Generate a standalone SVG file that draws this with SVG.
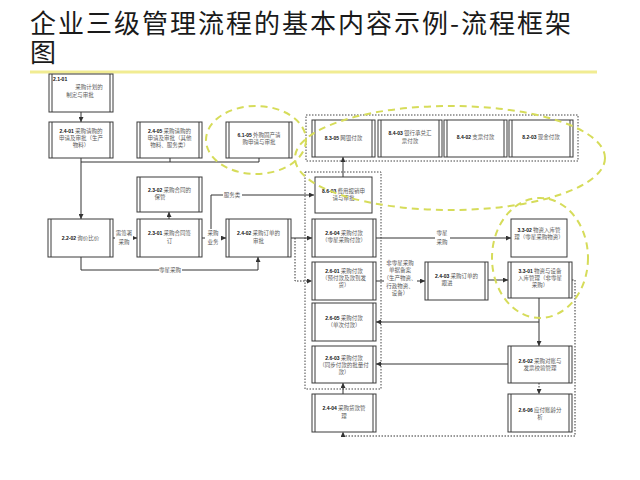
<svg xmlns="http://www.w3.org/2000/svg" width="640" height="480" viewBox="0 0 640 480">
<defs>
<style>
.title{font-family:"Noto Sans CJK SC","Noto Sans",sans-serif;font-size:26px;letter-spacing:2px;fill:#1a1a1a}
.bx{fill:#fff;stroke:#3a3a3a;stroke-width:1}
.in{stroke:#3a3a3a;stroke-width:1}
.t{font-family:"Noto Sans CJK SC","Noto Sans",sans-serif;font-size:5.5px;fill:#5a5a5a;text-anchor:middle}
.c{font-family:"Liberation Sans",Arial,sans-serif;font-weight:bold;font-size:5px;fill:#111}
.lb{font-family:"Noto Sans CJK SC","Noto Sans",sans-serif;font-size:5.5px;fill:#5a5a5a;text-anchor:middle}
.bg{fill:#fff}
.ln{fill:none;stroke:#333;stroke-width:1}
.dt{fill:none;stroke:#333;stroke-width:1;stroke-dasharray:1.5 1.5}
.grp{fill:none;stroke:#444;stroke-width:1;stroke-dasharray:1.5 1.5}
.hl{fill:none;stroke:#d6dc5a;stroke-width:2;stroke-dasharray:7 5}
</style>
<marker id="ar" markerUnits="userSpaceOnUse" markerWidth="5" markerHeight="5" refX="5" refY="2.5" orient="auto">
<path d="M0,0 L5,2.5 L0,5 z" fill="#333"/>
</marker>
</defs>
<rect width="640" height="480" fill="#fff"/>
<text class="title" x="30" y="33">企业三级管理流程的基本内容示例-流程框架</text>
<text class="title" x="30" y="62">图</text>
<line x1="30" y1="72" x2="597" y2="72" stroke="#f1ec92" stroke-width="3"/>

<g id="groups">
<rect class="grp" x="306" y="115" width="272" height="46"/>
<rect class="grp" x="305" y="172" width="76" height="217"/>
</g>

<g id="connectors">
<path class="ln" d="M81,112 V122" marker-end="url(#ar)"/>
<path class="ln" d="M81,158 V219" marker-end="url(#ar)"/>
<path class="ln" d="M81,162 H259 V158"/>
<path class="ln" d="M170,158 V162"/>
<path class="ln" d="M113,238 H137" marker-end="url(#ar)"/>
<path class="ln" d="M169,219 V212" marker-end="url(#ar)"/>
<path class="ln" d="M202,238 H226" marker-end="url(#ar)"/>
<path class="ln" d="M211,238 V195 H314" marker-end="url(#ar)"/>
<path class="ln" d="M81,257 V270 H258 V257" marker-end="url(#ar)"/>
<path class="ln" d="M291,238 H312" marker-end="url(#ar)"/>
<path class="dt" d="M295,238 V281 H312" marker-end="url(#ar)"/>
<path class="ln" d="M343,177 V157" marker-end="url(#ar)"/>
<path class="ln" d="M376,238 H511" marker-end="url(#ar)"/>
<path class="ln" d="M376,281 H425" marker-end="url(#ar)"/>
<path class="ln" d="M488,280 H508" marker-end="url(#ar)"/>
<path class="ln" d="M539,298 V346" marker-end="url(#ar)"/>
<path class="ln" d="M539,322 H376" marker-end="url(#ar)"/>
<path class="ln" d="M508,364 H376" marker-end="url(#ar)"/>
<path class="dt" d="M539,383 V394" marker-end="url(#ar)"/>
<path class="ln" d="M343,394 V383" marker-end="url(#ar)"/>
<path class="dt" d="M572,280 H575 V436 H343 V432" marker-end="url(#ar)"/>
<g id="labels">
<rect class="bg" x="115" y="229" width="18" height="17"/>
<text class="lb" x="124" y="235">需签署</text>
<text class="lb" x="124" y="244">采购</text>
<rect class="bg" x="205" y="229" width="16" height="17"/>
<text class="lb" x="213" y="235">采购</text>
<text class="lb" x="213" y="244">业务</text>
<rect class="bg" x="223" y="192" width="19" height="7"/>
<text class="lb" x="232" y="197">服务类</text>
<rect class="bg" x="159" y="267" width="23" height="7"/>
<text class="lb" x="170" y="272">零星采购</text>
<rect class="bg" x="435" y="229" width="15" height="17"/>
<text class="lb" x="442" y="235">零星</text>
<text class="lb" x="442" y="244">采购</text>
<rect class="bg" x="384" y="259" width="33" height="38"/>
<text class="lb" x="400" y="265">非零星采购</text>
<text class="lb" x="400" y="272">单据备案</text>
<text class="lb" x="400" y="280">（生产物资、</text>
<text class="lb" x="400" y="288">行政物资、</text>
<text class="lb" x="400" y="295">设备）</text>
</g>
</g>

<g id="n2101"><rect class="bx" x="49" y="74" width="64" height="38"/><path class="in" d="M52,74 V112 M110,74 V112"/>
<text class="c" x="53" y="81">2.1-01</text><text class="t" x="89" y="89">采购计划的</text><text class="t" x="80" y="97">制定与审批</text></g>

<g id="n2401"><rect class="bx" x="49" y="122" width="64" height="36"/><path class="in" d="M52,122 V158 M110,122 V158"/>
<text class="t" x="81" y="133"><tspan class="c">2.4-01</tspan> 采购请购的</text><text class="t" x="81" y="140">申请及审批（生产</text><text class="t" x="81" y="147">物料）</text></g>

<g id="n2405"><rect class="bx" x="137" y="122" width="65" height="36"/><path class="in" d="M140,122 V158 M199,122 V158"/>
<text class="t" x="169.5" y="133"><tspan class="c">2.4-05</tspan> 采购请购的</text><text class="t" x="169.5" y="140">申请及审批（其他</text><text class="t" x="169.5" y="147">物料、服务类）</text></g>

<g id="n6105"><rect class="bx" x="226" y="122" width="66" height="36"/><path class="in" d="M229,122 V158 M289,122 V158"/>
<text class="t" x="259" y="137"><tspan class="c">6.1-05</tspan> 外购固产请</text><text class="t" x="259" y="144">购申请与审批</text></g>

<g id="n8305"><rect class="bx" x="312" y="120" width="63" height="37"/><path class="in" d="M315,120 V157 M372,120 V157"/>
<text class="t" x="343.5" y="140"><tspan class="c">8.3-05</tspan> 网银付款</text></g>

<g id="n8403"><rect class="bx" x="378" y="120" width="64" height="37"/><path class="in" d="M381,120 V157 M439,120 V157"/>
<text class="t" x="410" y="135"><tspan class="c">8.4-03</tspan> 银行承兑汇</text><text class="t" x="410" y="143">票付款</text></g>

<g id="n8402"><rect class="bx" x="444" y="120" width="63" height="37"/><path class="in" d="M447,120 V157 M504,120 V157"/>
<text class="t" x="475.5" y="139"><tspan class="c">8.4-02</tspan> 支票付款</text></g>

<g id="n8203"><rect class="bx" x="509" y="120" width="64" height="37"/><path class="in" d="M512,120 V157 M570,120 V157"/>
<text class="t" x="541" y="139"><tspan class="c">8.2-03</tspan> 现金付款</text></g>

<g id="n8603"><rect class="bx" x="315" y="177" width="57" height="36"/>
<text class="t" x="343.5" y="193"><tspan class="c">8.6-03</tspan> 费用报销申</text><text class="t" x="343.5" y="200">请与审批</text></g>

<g id="n2302"><rect class="bx" x="137" y="177" width="65" height="35"/><path class="in" d="M140,177 V212 M199,177 V212"/>
<text class="t" x="169.5" y="192"><tspan class="c">2.3-02</tspan> 采购合同的</text><text class="t" x="160" y="199">保管</text></g>

<g id="n2202"><rect class="bx" x="48" y="219" width="65" height="38"/><path class="in" d="M51,219 V257 M110,219 V257"/>
<text class="t" x="80.5" y="240"><tspan class="c">2.2-02</tspan> 询价比价</text></g>

<g id="n2301"><rect class="bx" x="137" y="219" width="65" height="38"/><path class="in" d="M140,219 V257 M199,219 V257"/>
<text class="t" x="169.5" y="235"><tspan class="c">2.3-01</tspan> 采购合同签</text><text class="t" x="169.5" y="243">订</text></g>

<g id="n2402"><rect class="bx" x="226" y="219" width="65" height="38"/><path class="in" d="M229,219 V257 M288,219 V257"/>
<text class="t" x="258.5" y="235"><tspan class="c">2.4-02</tspan> 采购订单的</text><text class="t" x="258.5" y="243">审批</text></g>

<g id="n2604"><rect class="bx" x="312" y="219" width="64" height="38"/><path class="in" d="M315,219 V257 M373,219 V257"/>
<text class="t" x="344" y="235"><tspan class="c">2.6-04</tspan> 采购付款</text><text class="t" x="344" y="242">（零星采购付款）</text></g>

<g id="n2601"><rect class="bx" x="312" y="262" width="64" height="38"/><path class="in" d="M315,262 V300 M373,262 V300"/>
<text class="t" x="344" y="273"><tspan class="c">2.6-01</tspan> 采购付款</text><text class="t" x="344" y="280">（预付款及款到发</text><text class="t" x="344" y="287">货）</text></g>

<g id="n2605"><rect class="bx" x="312" y="303" width="64" height="38"/><path class="in" d="M315,303 V341 M373,303 V341"/>
<text class="t" x="344" y="320"><tspan class="c">2.6-05</tspan> 采购付款</text><text class="t" x="344" y="327">（单次付款）</text></g>

<g id="n2603"><rect class="bx" x="312" y="346" width="64" height="37"/><path class="in" d="M315,346 V383 M373,346 V383"/>
<text class="t" x="344" y="360"><tspan class="c">2.6-03</tspan> 采购付款</text><text class="t" x="344" y="367">（同步付款的批量付</text><text class="t" x="344" y="374">款）</text></g>

<g id="n2404"><rect class="bx" x="312" y="394" width="64" height="38"/><path class="in" d="M315,394 V432 M373,394 V432"/>
<text class="t" x="344" y="410"><tspan class="c">2.4-04</tspan> 采购货款管</text><text class="t" x="344" y="418">理</text></g>

<g id="n2403"><rect class="bx" x="425" y="262" width="63" height="38"/><path class="in" d="M428,262 V300 M485,262 V300"/>
<text class="t" x="456.5" y="278"><tspan class="c">2.4-03</tspan> 采购订单的</text><text class="t" x="447" y="285">跟进</text></g>

<g id="n3302"><rect class="bx" x="511" y="219" width="56" height="38"/>
<text class="t" x="539" y="232"><tspan class="c">3.3-02</tspan> 物资入库管</text><text class="t" x="539" y="239">理（零星采购物资）</text></g>

<g id="n3301"><rect class="bx" x="508" y="262" width="64" height="36"/><path class="in" d="M511,262 V298 M569,262 V298"/>
<text class="t" x="540" y="273"><tspan class="c">3.3-01</tspan> 物资与设备</text><text class="t" x="540" y="280">入库管理（非零星</text><text class="t" x="540" y="287">采购）</text></g>

<g id="n2602"><rect class="bx" x="508" y="346" width="64" height="37"/><path class="in" d="M511,346 V383 M569,346 V383"/>
<text class="t" x="540" y="363"><tspan class="c">2.6-02</tspan> 采购对账与</text><text class="t" x="540" y="370">发票校验管理</text></g>

<g id="n2606"><rect class="bx" x="508" y="394" width="64" height="38"/><path class="in" d="M511,394 V432 M569,394 V432"/>
<text class="t" x="540" y="412"><tspan class="c">2.6-06</tspan> 应付账龄分</text><text class="t" x="540" y="419">析</text></g>

<g id="highlights">
<ellipse class="hl" cx="256" cy="140" rx="50" ry="34"/>
<ellipse class="hl" cx="450" cy="158" rx="155" ry="52"/>
<ellipse class="hl" cx="540" cy="258" rx="48" ry="60"/>
</g>
</svg>
